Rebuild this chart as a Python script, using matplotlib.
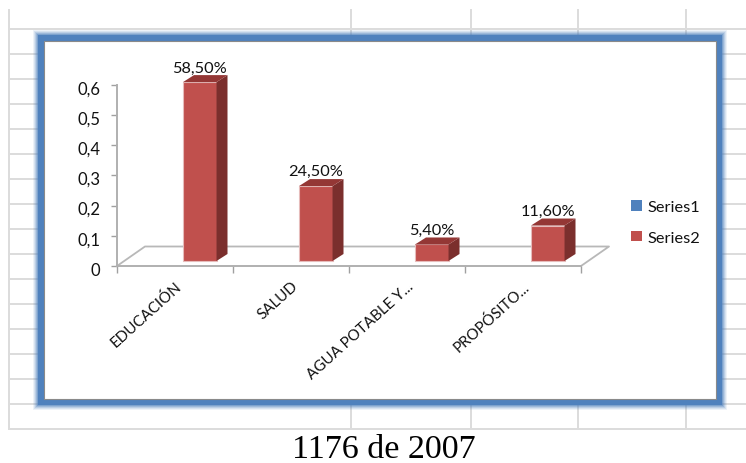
import matplotlib
matplotlib.use("Agg")
import matplotlib.pyplot as plt
from matplotlib.patches import Rectangle, Polygon, Patch
from matplotlib.transforms import ScaledTranslation

categories = ["EDUCACIÓN", "SALUD", "AGUA POTABLE Y...", "PROPÓSITO..."]
series2 = [0.585, 0.245, 0.054, 0.116]
value_labels = ["58,50%", "24,50%", "5,40%", "11,60%"]
yticks = [0, 0.1, 0.2, 0.3, 0.4, 0.5, 0.6]
ytick_labels = ["0", "0,1", "0,2", "0,3", "0,4", "0,5", "0,6"]
legend_names = ["Series1", "Series2"]
caption = "1176 de 2007"

W, H = 746, 464
fig = plt.figure(figsize=(W / 100, H / 100), dpi=100, facecolor="white")

# Background: spreadsheet grid and framed chart area, in pixel coordinates
bg = fig.add_axes([0, 0, 1, 1])
bg.set_xlim(0, W)
bg.set_ylim(H, 0)
bg.axis("off")
GRID = "#dcdcdc"
for y in range(30, 431, 25):
    bg.plot([9, W], [y, y], color=GRID, lw=1.4, zorder=1)
for x in [9, 351, 471, 578, 686]:
    bg.plot([x, x], [11, 430], color=GRID, lw=1.4, zorder=1)

BLUE = "#4f81bd"
L, T, R, B = 44, 42, 716, 400
for k, a in zip(range(5, 0, -1), [0.10, 0.14, 0.20, 0.28, 0.40]):
    e = 6 + k * 1.0
    bg.add_patch(Rectangle((L - e, T - e), R - L + 2 * e, B - T + 2 * e,
                           fc=BLUE, ec="none", alpha=a, zorder=2))
bg.add_patch(Rectangle((L - 6, T - 6), R - L + 12, B - T + 12, fc=BLUE, ec="none", zorder=3))
bg.add_patch(Rectangle((L, T), R - L, B - T, fc="white", ec="#8a8a8a", lw=0.8, zorder=4))

# Plot axes: x 0..4 spans px 117..581, y 0..0.6 spans px 267..85.7
x0, x1, y0, y6 = 117, 581, 267, 85.7
ax = fig.add_axes([x0 / W, 1 - y0 / H, (x1 - x0) / W, (y0 - y6) / H])
ax.patch.set_alpha(0)
ax.set_xlim(0, 4)
ax.set_ylim(0, 0.6)
px_x = 4 / (x1 - x0)
px_y = 0.6 / (y0 - y6)

for s in ["top", "right"]:
    ax.spines[s].set_visible(False)
for s in ["left", "bottom"]:
    ax.spines[s].set_color("#b0b0b0")
    ax.spines[s].set_linewidth(1.4)

FONT = "Lato"
ax.set_yticks(yticks)
ax.set_yticklabels(ytick_labels, fontsize=12, family=FONT, color="#111111")
ax.tick_params(axis="y", length=4, width=1, color="#a0a0a0", pad=8)
down = ScaledTranslation(0, -2 / 100, fig.dpi_scale_trans)
for t in ax.get_yticklabels():
    t.set_transform(t.get_transform() + down)
ax.set_xticks([0, 1, 2, 3, 4])
ax.set_xticklabels([])
ax.tick_params(axis="x", which="major", length=5, width=1, color="#a0a0a0")
ax.set_xticks([i + 0.5 for i in range(4)], minor=True)
ax.set_xticklabels(categories, minor=True, rotation=42, ha="right", va="top",
                   rotation_mode="anchor", fontsize=10.9, family=FONT, color="#111111")
ax.tick_params(axis="x", which="minor", length=0, pad=9)

# Floor of the pseudo 3D plot
floor_dx, floor_dy = 28 * px_x, 19.5 * px_y
ax.plot([0, floor_dx, 4 + floor_dx, 4], [0, floor_dy, floor_dy, 0],
        color="#b8b8b8", lw=1.3, clip_on=False, zorder=2)

# Bars
bar_w = 33.5 * px_x
bar_off = 66 * px_x
bar_base = 5 * px_y
depth_x, depth_y = 11 * px_x, 7 * px_y
scale = 1.012
xs = [i + bar_off for i in range(4)]
tops = [v * scale + bar_base for v in series2]
ax.bar(xs, [v * scale for v in series2], width=bar_w, bottom=bar_base, align="edge",
       color="#c0504d", edgecolor="#e6bcbb", linewidth=0.8, clip_on=False, zorder=4)
for x, top, lab in zip(xs, tops, value_labels):
    ax.add_patch(Polygon([(x + bar_w, bar_base), (x + bar_w + depth_x, bar_base + depth_y),
                          (x + bar_w + depth_x, top + depth_y), (x + bar_w, top)],
                         fc="#7b2f2d", ec="none", clip_on=False, zorder=4))
    ax.add_patch(Polygon([(x, top), (x + depth_x, top + depth_y),
                          (x + bar_w + depth_x, top + depth_y), (x + bar_w, top)],
                         fc="#943735", ec="none", clip_on=False, zorder=4))
    ax.annotate(lab, (x + bar_w / 2, top + depth_y), xytext=(0, 0.5),
                textcoords="offset points", ha="center", va="bottom",
                fontsize=11.8, family=FONT, color="#111111", annotation_clip=False)

# Legend
handles = [Patch(fc=BLUE, ec="none"), Patch(fc="#c0504d", ec="none")]
ax.legend(handles, legend_names, loc="center left", bbox_to_anchor=(1.077, 0.24),
          frameon=False, prop={"family": FONT, "size": 11.8}, handlelength=0.65,
          handleheight=0.65, handletextpad=0.3, labelspacing=0.98, labelcolor="#111111")

fig.text(384 / W, 1 - 450 / H, caption, ha="center", va="center",
         family="Liberation Serif", fontsize=24.5, color="black")

fig.savefig("out.png", dpi=100)
